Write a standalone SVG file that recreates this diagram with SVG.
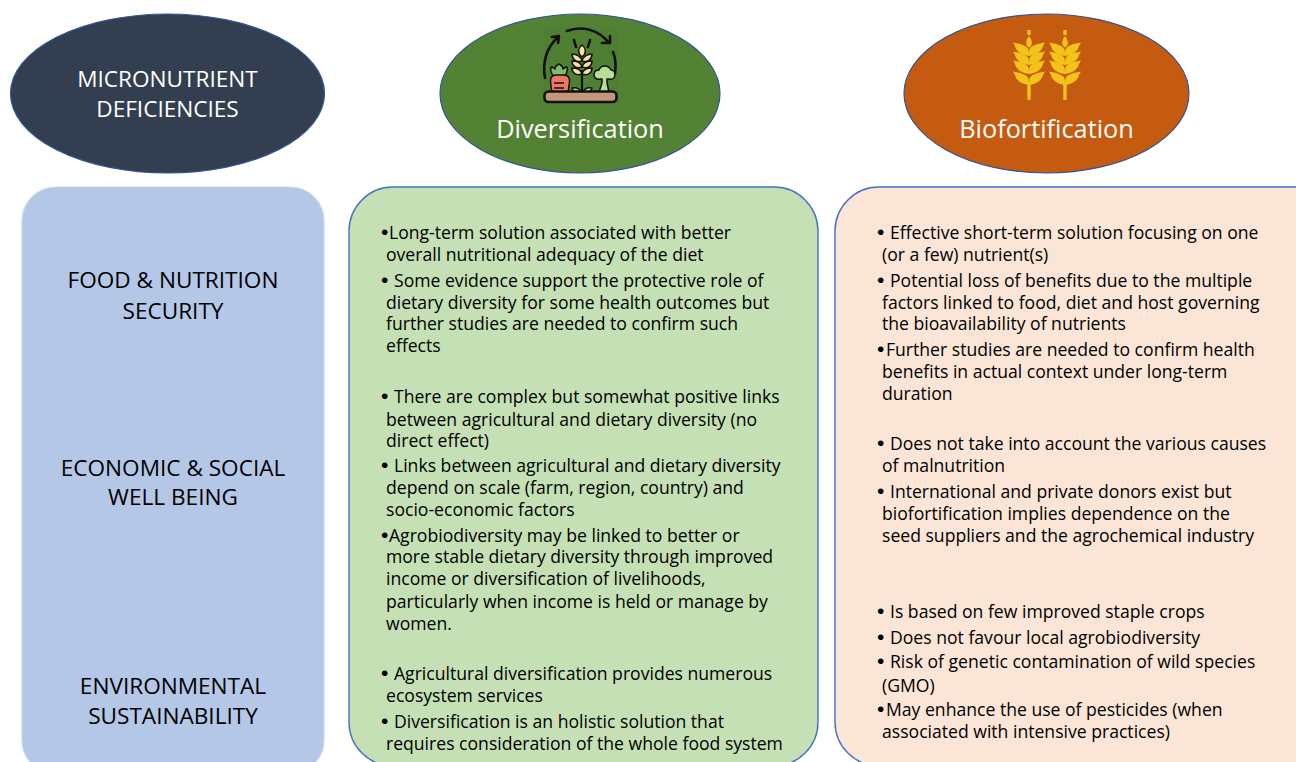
<svg xmlns="http://www.w3.org/2000/svg" width="1296" height="762" viewBox="0 0 1296 762">
<style>
text{font-family:"Open Sans","Noto Sans","Liberation Sans",sans-serif;fill:#000}
.b{font-size:17.6px}
.d{font-family:"Liberation Sans",sans-serif;font-size:21px}
.h{font-size:22.6px;text-anchor:middle}
.w{font-size:22.6px;text-anchor:middle;fill:#fff}
.t{font-size:25.3px;text-anchor:middle;fill:#fff}
.s{stroke:#4472c4;stroke-width:1.4}
.e{stroke:#2f5597;stroke-width:1.2}
.i{fill:none;stroke:#111;stroke-width:2.6;stroke-linecap:round;stroke-linejoin:round}
.o{stroke:#111;stroke-width:1.5;stroke-linejoin:round}
</style>
<defs>
<path id="leaf" d="M0 1c-8-1-13-5-14-10l-2-3.500c7 1 14 3 15.500 7c.5 2 .5 4 .5 6.500zM0 1c8-1 13-5 14-10l2-3.500c-7 1-14 3-15.500 7c-.5 2-.5 4-.5 6.500z" fill="#f2c318"/>
<g id="ear">
<rect x="-1.700" y="30" width="3.400" height="5" fill="#f2c318"/>
<path d="M0 36c3 4 4.500 9 0 11.500c-4.500-2.500-3-7.500 0-11.500z" fill="#f2c318"/>
<use href="#leaf" y="55"/>
<use href="#leaf" y="64"/>
<use href="#leaf" y="73"/>
<use href="#leaf" y="84"/>
<rect x="-1.700" y="82" width="3.400" height="18" fill="#f2c318"/>
</g>
</defs>

<g id="connectors"></g>

<g id="node-micronutrient">
<ellipse cx="167.500" cy="93.500" rx="157" ry="79.500" fill="#333f50" class="e"/>
<text class="w" x="167.500" y="87">MICRONUTRIENT</text>
<text class="w" x="167.500" y="117">DEFICIENCIES</text>
</g>

<g id="node-diversification">
<ellipse cx="580" cy="93.500" rx="140" ry="79.500" fill="#548235" class="e"/>
<rect x="543" y="28" width="75" height="75" fill="#4f7f33"/>
<path class="i" d="M545 78c-3-16 2-31 13-41M552 37l7-1l-1 7"/>
<path class="i" d="M567 31c15-6 32-1 42 12M602 43l8 0l0-7"/>
<path class="i" d="M613 52c3 7 3 14 2 21"/>
<path d="M582 92V70" stroke="#111" stroke-width="2.200"/>
<path class="i" d="M576 47l-2-7M588 47l2-7"/>
<path class="o" d="M582 45c4 3 5 8 0 12c-5-4-4-9 0-12z" fill="#f7e1a0"/>
<path class="o" d="M582 61c-1-4-5-7-10-7c0 5 4 9 10 7zM582 61c1-4 5-7 10-7c0 5-4 9-10 7zM582 67c-1-4-5-6-10-6c0 5 4 8 10 6zM582 67c1-4 5-6 10-6c0 5-4 8-10 6zM582 74c-1-4-5-6-10-6c0 5 4 8 10 6zM582 74c1-4 5-6 10-6c0 5-4 8-10 6z" fill="#f7e1a0"/>
<path class="o" d="M582 93c-2-4-6-6-10-5c1 4 5 6 10 5zM582 93c2-4 6-6 10-5c-1 4-5 6-10 5z" fill="#a9d68a"/>
<path class="o" d="M554 76c-3-2-4-6-3-9c2 0 3 1 4 2c0-2 2-4 4-5c2 1 4 3 4 5c1-1 2-2 4-2c1 3 0 7-3 9z" fill="#7cbf62"/>
<path class="o" d="M555 75h8c4 0 6 3 5.500 7l-1.500 11h-16l-1.500-11c-.5-4 1.500-7 5.500-7z" fill="#ee7766" transform="translate(1 0)"/>
<path d="M554 83h10M554 88h10" stroke="#111" stroke-width="1.600"/>
<path class="o" d="M602 83v-4h-2c-4 1-6-2-6-4c0-3 2-5 5-5c1-3 3-4 6-4c3 0 5 2 6 4c3 0 4 3 4 5c0 3-3 5-6 4h-2v4l2 9h-10z" fill="#b7df96"/>
<rect x="544.500" y="91.500" width="72" height="10.500" rx="4" fill="#c4977a" stroke="#111" stroke-width="2.600"/>
<text class="t" x="580" y="138">Diversification</text>
</g>

<g id="node-biofortification">
<ellipse cx="1046.500" cy="93.500" rx="142.500" ry="79.500" fill="#c55a11" class="e"/>
<use href="#ear" x="1029"/>
<use href="#ear" x="1065"/>
<text class="t" x="1046.500" y="138">Biofortification</text>
</g>

<g id="node-dimensions">
<rect x="22" y="187" width="302" height="587" rx="34" fill="#b4c7e7" stroke="#c9d6ec" stroke-width="1.200"/>
<text class="h" x="173" y="288">FOOD &amp; NUTRITION</text>
<text class="h" x="173" y="319">SECURITY</text>
<text class="h" x="173" y="476">ECONOMIC &amp; SOCIAL</text>
<text class="h" x="173" y="505">WELL BEING</text>
<text class="h" x="173" y="694">ENVIRONMENTAL</text>
<text class="h" x="173" y="724">SUSTAINABILITY</text>
</g>

<g id="node-diversification-details">
<rect x="349" y="187" width="469" height="579" rx="44" fill="#c5e0b4" class="s"/>
<text class="b" x="381" y="239"><tspan class="d">•</tspan><tspan x="389">Long-term solution associated with better</tspan></text>
<text class="b" x="386" y="261">overall nutritional adequacy of the diet</text>
<text class="b" x="381" y="287"><tspan class="d">• </tspan><tspan x="394">Some evidence support the protective role of</tspan></text>
<text class="b" x="386" y="309">dietary diversity for some health outcomes but</text>
<text class="b" x="386" y="330">further studies are needed to confirm such</text>
<text class="b" x="386" y="352">effects</text>
<text class="b" x="381" y="403"><tspan class="d">• </tspan><tspan x="394">There are complex but somewhat positive links</tspan></text>
<text class="b" x="386" y="426">between agricultural and dietary diversity (no</text>
<text class="b" x="386" y="447">direct effect)</text>
<text class="b" x="381" y="472"><tspan class="d">• </tspan><tspan x="394">Links between agricultural and dietary diversity</tspan></text>
<text class="b" x="386" y="494">depend on scale (farm, region, country) and</text>
<text class="b" x="386" y="516">socio-economic factors</text>
<text class="b" x="381" y="542"><tspan class="d">•</tspan><tspan x="389">Agrobiodiversity may be linked to better or</tspan></text>
<text class="b" x="386" y="563">more stable dietary diversity through improved</text>
<text class="b" x="386" y="585">income or diversification of livelihoods,</text>
<text class="b" x="386" y="608">particularly when income is held or manage by</text>
<text class="b" x="386" y="630">women.</text>
<text class="b" x="381" y="680"><tspan class="d">• </tspan><tspan x="394">Agricultural diversification provides numerous</tspan></text>
<text class="b" x="386" y="702">ecosystem services</text>
<text class="b" x="381" y="728"><tspan class="d">• </tspan><tspan x="394">Diversification is an holistic solution that</tspan></text>
<text class="b" x="386" y="750">requires consideration of the whole food system</text>
</g>

<g id="node-biofortification-details">
<rect x="835" y="187" width="520" height="579" rx="44" fill="#fbe5d6" class="s"/>
<text class="b" x="877" y="239"><tspan class="d">• </tspan><tspan x="890">Effective short-term solution focusing on one</tspan></text>
<text class="b" x="882" y="261">(or a few) nutrient(s)</text>
<text class="b" x="877" y="287"><tspan class="d">• </tspan><tspan x="890">Potential loss of benefits due to the multiple</tspan></text>
<text class="b" x="882" y="309">factors linked to food, diet and host governing</text>
<text class="b" x="882" y="330">the bioavailability of nutrients</text>
<text class="b" x="877" y="356"><tspan class="d">•</tspan><tspan x="886">Further studies are needed to confirm health</tspan></text>
<text class="b" x="882" y="378">benefits in actual context under long-term</text>
<text class="b" x="882" y="400">duration</text>
<text class="b" x="877" y="450"><tspan class="d">• </tspan><tspan x="890">Does not take into account the various causes</tspan></text>
<text class="b" x="882" y="472">of malnutrition</text>
<text class="b" x="877" y="498"><tspan class="d">• </tspan><tspan x="890">International and private donors exist but</tspan></text>
<text class="b" x="882" y="520">biofortification implies dependence on the</text>
<text class="b" x="882" y="542">seed suppliers and the agrochemical industry</text>
<text class="b" x="877" y="618"><tspan class="d">• </tspan><tspan x="890">Is based on few improved staple crops</tspan></text>
<text class="b" x="877" y="644"><tspan class="d">• </tspan><tspan x="890">Does not favour local agrobiodiversity</tspan></text>
<text class="b" x="877" y="668"><tspan class="d">• </tspan><tspan x="890">Risk of genetic contamination of wild species</tspan></text>
<text class="b" x="882" y="692">(GMO)</text>
<text class="b" x="877" y="716"><tspan class="d">•</tspan><tspan x="886">May enhance the use of pesticides (when</tspan></text>
<text class="b" x="882" y="738">associated with intensive practices)</text>
</g>
</svg>
